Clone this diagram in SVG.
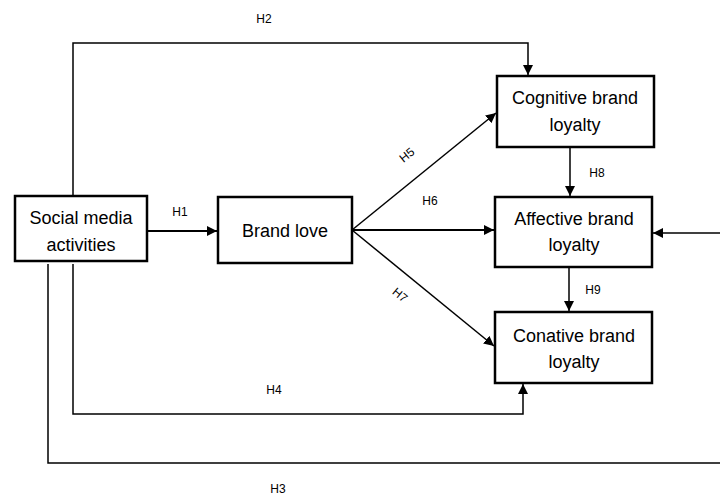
<svg xmlns="http://www.w3.org/2000/svg" width="720" height="497" viewBox="0 0 720 497">
<style>
.box{fill:#fff;stroke:#000;stroke-width:2.5}
.t{font-family:"Liberation Sans",Arial,sans-serif;font-size:18px;fill:#000;text-anchor:middle}
.l{font-family:"Liberation Sans",Arial,sans-serif;font-size:12px;fill:#000;text-anchor:middle}
.c{fill:none;stroke:#000;stroke-width:1.5}
.c2{fill:none;stroke:#000;stroke-width:2}
</style>
<defs>
<marker id="ah" viewBox="0 0 10 10" refX="10" refY="5" markerWidth="10" markerHeight="10" markerUnits="userSpaceOnUse" orient="auto">
<path d="M0,0 L10,5 L0,10 Z" fill="#000"/>
</marker>
</defs>
<rect width="720" height="497" fill="#fff"/>
<g id="connectors">
<path class="c" d="M73,196 V43 H528 V75" marker-end="url(#ah)"/>
<path class="c2" d="M147,231 H217" marker-end="url(#ah)"/>
<path class="c" d="M352,230 L496,113" marker-end="url(#ah)"/>
<path class="c2" d="M352,230 H494" marker-end="url(#ah)"/>
<path class="c" d="M352,230 L494,346" marker-end="url(#ah)"/>
<path class="c" d="M570,147 V196" marker-end="url(#ah)"/>
<path class="c" d="M569,267 V311" marker-end="url(#ah)"/>
<path class="c" d="M73,264 V414 H523 V384" marker-end="url(#ah)"/>
<path class="c" d="M48,264 V463 H720"/>
<path class="c" d="M720,233 H653" marker-end="url(#ah)"/>
</g>
<g id="labels">
<text class="l" x="264" y="23">H2</text>
<text class="l" x="180" y="216">H1</text>
<text class="l" x="407" y="159" transform="rotate(-39 407 155)">H5</text>
<text class="l" x="430" y="205">H6</text>
<text class="l" x="400" y="299" transform="rotate(39 400 295)">H7</text>
<text class="l" x="597" y="177">H8</text>
<text class="l" x="593" y="294">H9</text>
<text class="l" x="274" y="394">H4</text>
<text class="l" x="278" y="493">H3</text>
</g>
<g id="social-media">
<rect class="box" x="15" y="196" width="132" height="65"/>
<text class="t" x="81" y="224">Social media</text>
<text class="t" x="81" y="251">activities</text>
</g>
<g id="brand-love">
<rect class="box" x="218" y="197" width="134" height="66"/>
<text class="t" x="285" y="237">Brand love</text>
</g>
<g id="cognitive">
<rect class="box" x="497" y="76" width="157" height="71"/>
<text class="t" x="575" y="104">Cognitive brand</text>
<text class="t" x="575" y="131">loyalty</text>
</g>
<g id="affective">
<rect class="box" x="495" y="197" width="157" height="70"/>
<text class="t" x="574" y="225">Affective brand</text>
<text class="t" x="574" y="251">loyalty</text>
</g>
<g id="conative">
<rect class="box" x="495" y="312" width="157" height="71"/>
<text class="t" x="574" y="342">Conative brand</text>
<text class="t" x="574" y="368">loyalty</text>
</g>
</svg>
